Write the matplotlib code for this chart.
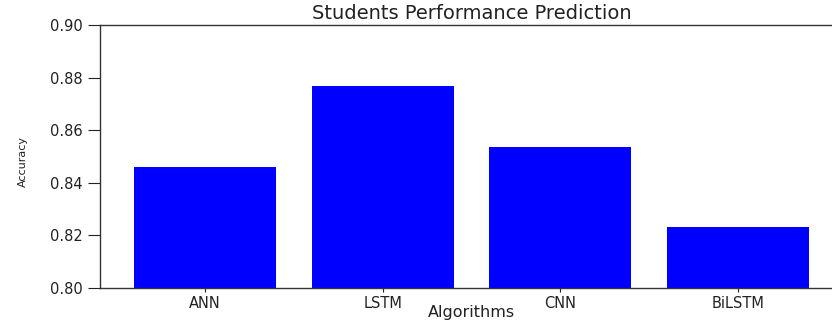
import matplotlib
matplotlib.use("Agg")
import matplotlib.pyplot as plt

# Accuracy of each model on the students performance task
algorithms = ["ANN", "LSTM", "CNN", "BiLSTM"]
accuracy = [0.8461, 0.8769, 0.8537, 0.8232]
y_ticks = [0.80, 0.82, 0.84, 0.86, 0.88, 0.90]

plt.rcParams["font.family"] = ["DejaVu Sans"]

fig = plt.figure(figsize=(8.32, 3.2), dpi=100)
ax = fig.add_axes([0.1202, 0.1, 0.893, 0.8219])

ax.bar(algorithms, accuracy, width=0.8, color="#0000ff")

ax.set_ylim(0.80, 0.90)
ax.set_yticks(y_ticks)
ax.set_yticklabels([f"{t:.2f}" for t in y_ticks])

ax.set_title("Students Performance Prediction", fontsize=14, color="#222222", pad=4)
ax.set_xlabel("Algorithms", fontsize=11.5, color="#222222")
ax.set_ylabel("Accuracy", fontsize=8, color="#222222")
ax.xaxis.set_label_coords(0.5, -0.064)
ax.yaxis.set_label_coords(-0.097, 0.48)

ax.tick_params(axis="y", labelsize=10.5, length=9, pad=3.5, colors="#222222")
ax.tick_params(axis="x", labelsize=10.5, length=3, pad=3, colors="#222222")

for side in ("left", "bottom", "top", "right"):
    ax.spines[side].set_color("#333333")
    ax.spines[side].set_linewidth(1.0)

fig.savefig("out.png", dpi=100)
